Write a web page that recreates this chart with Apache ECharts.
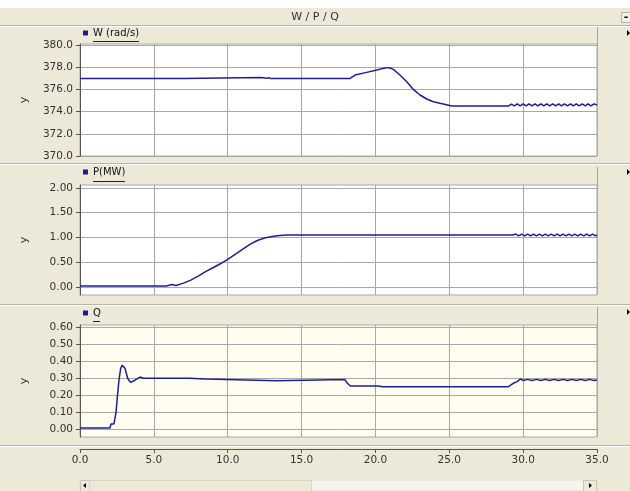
<!DOCTYPE html>
<html>
<head>
<meta charset="utf-8">
<script src="https://cdn.jsdelivr.net/npm/echarts@6/dist/echarts.min.js"></script>
<style>
  html, body { margin: 0; padding: 0; background: #ECE9D8; }
  #main { width: 630px; height: 491px; }
</style>
</head>
<body>
<div id="main"></div>
<script>
// W (rad/s) -- [t, value]
var wData = [
  [0, 377.0], [7.0, 377.0], [7.02, 377.07], [12.2, 377.07], [12.3, 377.0], [12.45, 377.06], [12.6, 377.0],
  [12.75, 377.06], [12.9, 377.0], [18.28, 377.0], [18.62, 377.3], [19.41, 377.54], [20.09, 377.75],
  [20.53, 377.9], [20.8, 377.97], [21.0, 377.93], [21.21, 377.81], [21.66, 377.3], [22.12, 376.7],
  [22.56, 376.01], [23.02, 375.5], [23.47, 375.14], [23.92, 374.89], [24.37, 374.75], [24.82, 374.62],
  [25.16, 374.5], [29.0, 374.5], [29.2, 374.68], [29.4, 374.52], [29.6, 374.7], [29.8, 374.52],
  [30.0, 374.7], [30.2, 374.52], [30.4, 374.7], [30.6, 374.52], [30.8, 374.7], [31.0, 374.52],
  [31.2, 374.7], [31.4, 374.52], [31.6, 374.7], [31.8, 374.52], [32.0, 374.7], [32.2, 374.52],
  [32.4, 374.7], [32.6, 374.52], [32.8, 374.7], [33.0, 374.52], [33.2, 374.7], [33.4, 374.52],
  [33.6, 374.7], [33.8, 374.52], [34.0, 374.7], [34.2, 374.52], [34.4, 374.7], [34.6, 374.52],
  [34.8, 374.7], [35.0, 374.6]
]
var wTicks = [370, 372, 374, 376, 378, 380]

// P(MW)
var pData = [
  [0, 0.02], [5.85, 0.02], [5.9, 0.05], [6.2, 0.05], [6.25, 0.02], [6.5, 0.03], [7.0, 0.08], [7.5, 0.14],
  [8.0, 0.22], [8.5, 0.31], [9.0, 0.39], [9.5, 0.47], [10.0, 0.56], [10.5, 0.66], [11.0, 0.76],
  [11.5, 0.86], [12.0, 0.94], [12.5, 0.99], [13.0, 1.02], [13.5, 1.04], [14.0, 1.05], [15.9, 1.05],
  [16.0, 1.08], [16.2, 1.05], [16.6, 1.05], [16.7, 1.08], [16.9, 1.05], [17.3, 1.05], [17.4, 1.08],
  [17.6, 1.05], [17.9, 1.05], [18.0, 1.08], [18.2, 1.05], [29.3, 1.05], [29.5, 1.07], [29.7, 1.035],
  [29.9, 1.07], [30.1, 1.035], [30.3, 1.07], [30.5, 1.035], [30.7, 1.07], [30.9, 1.035], [31.1, 1.07],
  [31.3, 1.035], [31.5, 1.07], [31.7, 1.035], [31.9, 1.07], [32.1, 1.035], [32.3, 1.07], [32.5, 1.035],
  [32.7, 1.07], [32.9, 1.035], [33.1, 1.07], [33.3, 1.035], [33.5, 1.07], [33.7, 1.035], [33.9, 1.07],
  [34.1, 1.035], [34.3, 1.07], [34.5, 1.035], [34.7, 1.07], [34.9, 1.035], [35.0, 1.05]
]
var pTicks = [0, 0.5, 1.0, 1.5, 2.0]

// Q
var qData = [
  [0, 0.006], [2.03, 0.006], [2.1, 0.03], [2.3, 0.03], [2.37, 0.04], [2.44, 0.10], [2.53, 0.19],
  [2.64, 0.29], [2.75, 0.357], [2.86, 0.377], [3.05, 0.357], [3.23, 0.298], [3.43, 0.275],
  [3.72, 0.288], [4.06, 0.307], [4.29, 0.30], [7.4, 0.30], [7.5, 0.295], [8.55, 0.295], [8.6, 0.285],
  [13.3, 0.285], [13.35, 0.292], [17.94, 0.292], [18.1, 0.27], [18.3, 0.254], [18.7, 0.254],
  [18.8, 0.26], [19.0, 0.254], [19.5, 0.254], [19.6, 0.26], [19.8, 0.254], [20.2, 0.254], [20.3, 0.26],
  [20.5, 0.25], [29.0, 0.25], [29.33, 0.27], [29.6, 0.28], [29.8, 0.295], [30.0, 0.287], [30.3, 0.293],
  [30.6, 0.287], [30.9, 0.293], [31.2, 0.287], [31.5, 0.293], [31.8, 0.287], [32.1, 0.293],
  [32.4, 0.287], [32.7, 0.293], [33.0, 0.287], [33.3, 0.293], [33.6, 0.287], [33.9, 0.293],
  [34.2, 0.287], [34.5, 0.293], [34.8, 0.287], [35.0, 0.29]
]
var qTicks = [0, 0.1, 0.2, 0.3, 0.4, 0.5, 0.6]

var seriesNames = ['W (rad/s)', 'P(MW)', 'Q']

var chart = echarts.init(document.getElementById('main'), null, { renderer: 'canvas' })

var font = 'DejaVu Sans'
var lineColor = '#1E1E96'
var gridColor = '#A8A8A8'
var axisColor = '#555'

// plot boxes: top / height / background
var panels = [
  { top: 44, height: 112, bg: '#FFFFFF', min: 370, max: 380.1, ticks: wTicks, digits: 1, legendTop: 28 },
  { top: 185, height: 110, bg: '#FFFFFF', min: -0.16, max: 2.06, ticks: pTicks, digits: 2, legendTop: 167 },
  { top: 325, height: 112, bg: '#FFFDF0', min: -0.047, max: 0.614, ticks: qTicks, digits: 2, legendTop: 308 }
]
var allData = [wData, pData, qData]

function sepLines(y) {
  return [
    { type: 'line', shape: { x1: 0, y1: y + 0.5, x2: 630, y2: y + 0.5 }, style: { stroke: '#B8B5A6', lineWidth: 1 } },
    { type: 'line', shape: { x1: 0, y1: y + 1.5, x2: 630, y2: y + 1.5 }, style: { stroke: '#FFFFFF', lineWidth: 1 } }
  ]
}
function rightArrow(y) {
  return { type: 'polygon', shape: { points: [[627, y - 3], [630, y], [627, y + 3]] }, style: { fill: '#000' } }
}

var graphics = [
  { type: 'rect', shape: { x: 0, y: 0, width: 630, height: 8 }, style: { fill: '#FFFFFF' } },
  { type: 'rect', shape: { x: 621.5, y: 12.5, width: 10, height: 10 }, style: { fill: '#F2F0E6', stroke: '#B8B5A6' } },
  { type: 'text', style: { text: '-', x: 626, y: 17, fill: '#000', font: 'bold 11px DejaVu Sans', align: 'center', verticalAlign: 'middle' } },
  rightArrow(33), rightArrow(172), rightArrow(312),
  // legend strip right borders
  { type: 'line', shape: { x1: 597.5, y1: 27, x2: 597.5, y2: 44 }, style: { stroke: '#A8A8A8' } },
  { type: 'line', shape: { x1: 597.5, y1: 167, x2: 597.5, y2: 185 }, style: { stroke: '#A8A8A8' } },
  { type: 'line', shape: { x1: 597.5, y1: 307, x2: 597.5, y2: 325 }, style: { stroke: '#A8A8A8' } },
  // legend underlines
  { type: 'line', shape: { x1: 93, y1: 41.5, x2: 139, y2: 41.5 }, style: { stroke: '#222' } },
  { type: 'line', shape: { x1: 93, y1: 181.5, x2: 125, y2: 181.5 }, style: { stroke: '#222' } },
  { type: 'line', shape: { x1: 93, y1: 321.5, x2: 100, y2: 321.5 }, style: { stroke: '#222' } },
  // scrollbar
  { type: 'rect', shape: { x: 80, y: 480, width: 517, height: 11 }, style: { fill: '#F5F4EE', stroke: '#E2E0D6' } },
  { type: 'rect', shape: { x: 80.5, y: 480.5, width: 9, height: 11 }, style: { fill: '#ECE9D8', stroke: '#C9C6B8' } },
  { type: 'rect', shape: { x: 89.5, y: 480.5, width: 222, height: 11 }, style: { fill: '#ECE9D8', stroke: '#D8D5C6' } },
  { type: 'rect', shape: { x: 583.5, y: 480.5, width: 13, height: 11 }, style: { fill: '#ECE9D8', stroke: '#C9C6B8' } },
  { type: 'polygon', shape: { points: [[86, 483], [83, 485.5], [86, 488]] }, style: { fill: '#000' } },
  { type: 'polygon', shape: { points: [[589, 483], [592, 485.5], [589, 488]] }, style: { fill: '#000' } }
]
graphics = graphics.concat(sepLines(25), sepLines(163), sepLines(304), sepLines(445))

var option = {
  animation: false,
  backgroundColor: '#ECE9D8',
  title: {
    text: 'W / P / Q',
    left: 'center',
    top: 12,
    padding: 0,
    textStyle: { fontFamily: font, fontSize: 11, fontWeight: 'normal', color: '#333' }
  },
  legend: panels.map(function (p, i) {
    return {
      data: [seriesNames[i]],
      left: 83,
      top: p.legendTop,
      padding: 0,
      icon: 'rect',
      itemWidth: 5,
      itemHeight: 5,
      selectedMode: false,
      textStyle: { fontFamily: font, fontSize: 10, color: '#111' }
    }
  }),
  grid: panels.map(function (p) {
    return {
      left: 80, right: 33, top: p.top, height: p.height,
      show: true, backgroundColor: p.bg, borderColor: '#A8A8A8', borderWidth: 1
    }
  }),
  xAxis: panels.map(function (p, i) {
    var last = i === 2
    return {
      type: 'value',
      gridIndex: i,
      min: 0,
      max: 35,
      interval: 5,
      offset: last ? 12 : 0,
      axisLine: { show: last, onZero: false, lineStyle: { color: axisColor } },
      axisTick: { show: last, length: 4, lineStyle: { color: axisColor } },
      axisLabel: {
        show: last, margin: 6, fontFamily: font, fontSize: 10.5, color: '#333',
        formatter: function (v) { return v.toFixed(1) }
      },
      splitLine: { show: true, lineStyle: { color: gridColor, width: 1 } }
    }
  }),
  yAxis: panels.map(function (p, i) {
    return {
      type: 'value',
      gridIndex: i,
      min: p.min,
      max: p.max,
      name: 'y',
      nameLocation: 'middle',
      nameRotate: 90,
      nameGap: 50,
      nameTextStyle: { fontFamily: font, fontSize: 11, color: '#333' },
      axisLine: { show: true, onZero: false, lineStyle: { color: axisColor } },
      axisTick: { show: true, length: 4, customValues: p.ticks, lineStyle: { color: axisColor } },
      axisLabel: {
        customValues: p.ticks, margin: 7, fontFamily: font, fontSize: 10.5, color: '#333',
        formatter: function (v) { return v.toFixed(p.digits) }
      },
      splitLine: { show: true, lineStyle: { color: gridColor, width: 1 } }
    }
  }),
  series: allData.map(function (d, i) {
    return {
      name: seriesNames[i],
      type: 'line',
      xAxisIndex: i,
      yAxisIndex: i,
      data: d,
      showSymbol: false,
      color: '#1C1C8C',
      lineStyle: { color: lineColor, width: 1.5 }
    }
  }),
  graphic: graphics
}

chart.setOption(option)
</script>
</body>
</html>
